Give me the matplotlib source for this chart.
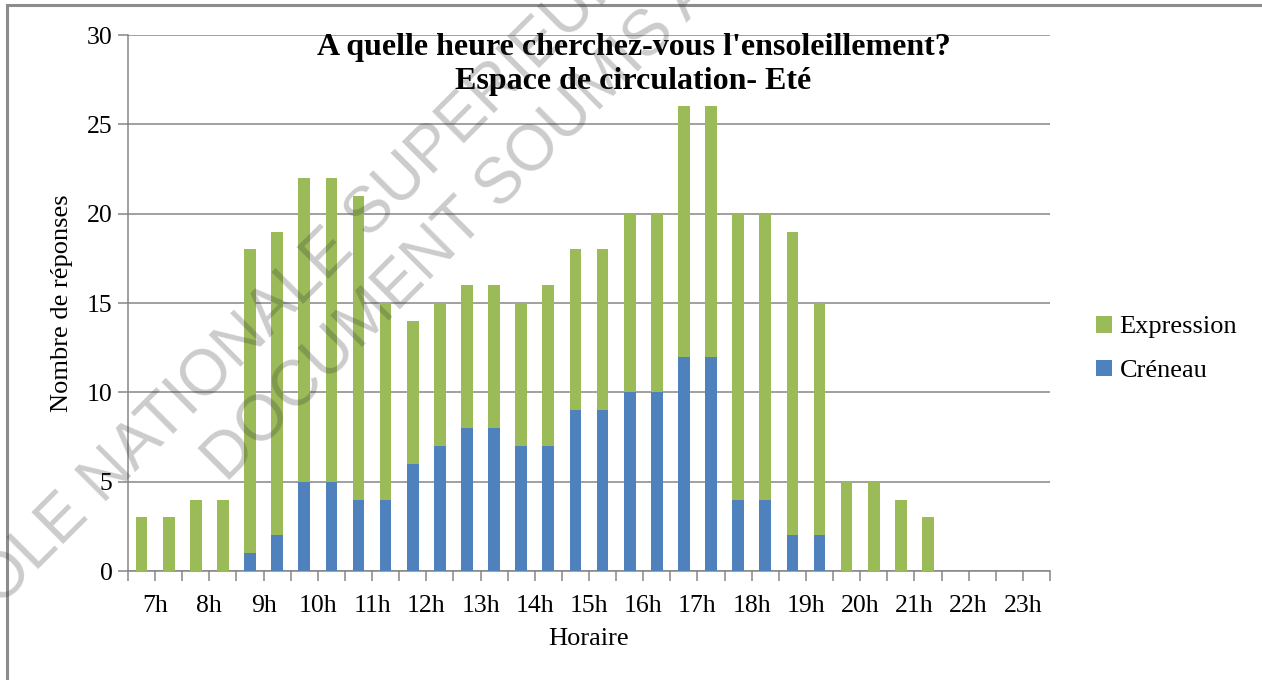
import numpy as np
import matplotlib.pyplot as plt
from matplotlib.patches import Rectangle
from matplotlib.ticker import FixedLocator

# Half-hour slots from 7h to 23h30
heures = ["7h", "8h", "9h", "10h", "11h", "12h", "13h", "14h", "15h",
          "16h", "17h", "18h", "19h", "20h", "21h", "22h", "23h"]
creneau = [0, 0, 0, 0, 1, 2, 5, 5, 4, 4, 6, 7, 8, 8, 7, 7, 9,
           9, 10, 10, 12, 12, 4, 4, 2, 2, 0, 0, 0, 0, 0, 0, 0, 0]
expression = [3, 3, 4, 4, 17, 17, 17, 17, 17, 11, 8, 8, 8, 8, 8, 9, 9,
              9, 10, 10, 14, 14, 16, 16, 17, 13, 5, 5, 4, 3, 0, 0, 0, 0]

vert = "#9BBB59"
bleu = "#4F81BD"
gris = "#868686"

plt.rcParams['font.family'] = ['Liberation Serif', 'DejaVu Serif']

fig = plt.figure(figsize=(12.62, 6.8), dpi=100)
ax = fig.add_axes([128 / 1262, 1 - 571 / 680, (1050 - 128) / 1262, (571 - 35) / 680])

x = np.arange(len(creneau))
b1 = ax.bar(x, creneau, width=0.43, color=bleu, label="Créneau", zorder=3)
b2 = ax.bar(x, expression, width=0.43, bottom=creneau, color=vert,
            label="Expression", zorder=3)

ax.set_xlim(-0.5, len(x) - 0.5)
ax.set_ylim(0, 30)
ax.set_yticks(np.arange(0, 31, 5))
ax.yaxis.grid(True, color=gris, lw=1.1, zorder=0)

# hour labels sit between the two half-hour bars, tick marks on every boundary
ax.set_xticks(np.arange(len(heures)) * 2 + 0.5, labels=heures)
ax.xaxis.set_minor_locator(FixedLocator(np.arange(len(heures) + 1) * 2 - 0.5))
ax.tick_params(axis='x', which='both', length=7, color=gris, width=1.1,
               labelsize=18.5, pad=10)
ax.tick_params(axis='y', length=7, color=gris, width=1.1, labelsize=18.5, pad=4)

for s in ['top', 'right']:
    ax.spines[s].set_visible(False)
for s in ['left', 'bottom']:
    ax.spines[s].set_color(gris)
    ax.spines[s].set_linewidth(1.1)

ax.set_xlabel("Horaire", fontsize=19, labelpad=8)
ax.set_ylabel("Nombre de réponses", fontsize=19, labelpad=10)

fig.text(0.502, 1 - 47 / 680, "A quelle heure cherchez-vous l'ensoleillement?",
         ha='center', va='center', fontsize=23, fontweight='bold')
fig.text(0.502, 1 - 82 / 680, "Espace de circulation- Eté",
         ha='center', va='center', fontsize=23, fontweight='bold')

fig.legend([b2, b1], ["Expression", "Créneau"], loc='center left',
           bbox_to_anchor=(1072 / 1262, 1 - 349 / 680), frameon=False,
           fontsize=19, handlelength=0.6, handleheight=0.6,
           handletextpad=0.3, labelspacing=0.8)

# page frame
fig.add_artist(Rectangle((7 / 1262, -0.1), 1.2, 1.1 - 5 / 680,
                         transform=fig.transFigure, fill=False,
                         edgecolor="#8c8c8c", lw=2.2))

# watermark
wm = dict(family=['Liberation Sans', 'DejaVu Sans'], fontsize=46, rotation=45,
          rotation_mode='anchor', ha='center', va='center',
          color=(0.2, 0.2, 0.2), alpha=0.25, zorder=10)
fig.text(288 / 1262, 1 - 297 / 680, "ECOLE NATIONALE SUPERIEURE", **wm)
fig.text(460 / 1262, 1 - 226 / 680, "DOCUMENT SOUMIS A", **wm)

fig.savefig("out.png", dpi=100)
